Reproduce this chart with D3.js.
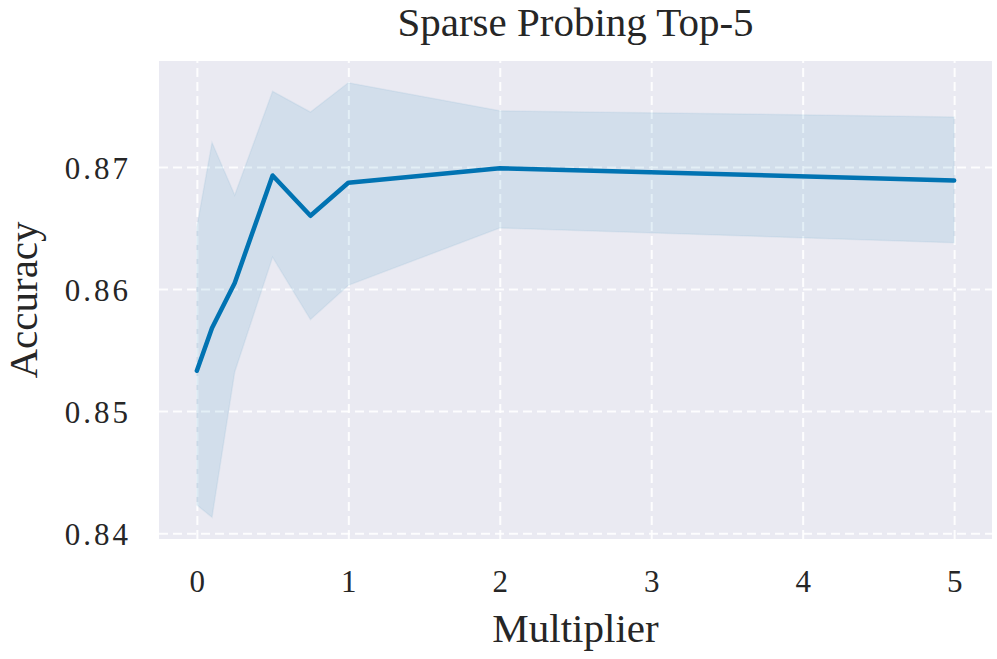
<!DOCTYPE html>
<html>
<head>
<meta charset="utf-8">
<script src="https://cdn.jsdelivr.net/npm/d3@7"></script>
<style>
  html, body { margin: 0; padding: 0; background: #ffffff; }
  svg { display: block; }
</style>
</head>
<body>
<svg id="chart" width="997" height="659"></svg>
<script>
// ---- data ----
const multipliers = [0, 0.1, 0.25, 0.5, 0.75, 1, 2, 5];
const meanAccuracy = [0.8533, 0.8568, 0.8605, 0.8693, 0.8660, 0.8687, 0.8699, 0.8689];
const upperAccuracy = [0.8651, 0.8720, 0.8677, 0.8762, 0.8745, 0.8769, 0.8746, 0.8741];
const lowerAccuracy = [0.8423, 0.8413, 0.8532, 0.8626, 0.8575, 0.8603, 0.8650, 0.8638];
const xTicks = [0, 1, 2, 3, 4, 5];
const yTicks = [0.84, 0.85, 0.86, 0.87];
const titleText = "Sparse Probing Top-5";
const xLabelText = "Multiplier";
const yLabelText = "Accuracy";

const rows = multipliers.map((m, i) => ({
  x: m, y: meanAccuracy[i], lo: lowerAccuracy[i], hi: upperAccuracy[i]
}));

// ---- layout ----
const plot = { left: 159, right: 992, top: 61, bottom: 539 };
const lineColor = "#0173B2";

const xMin = d3.min(multipliers), xMax = d3.max(multipliers);
const xPad = (xMax - xMin) * 0.05;
const yMin = d3.min(lowerAccuracy), yMax = d3.max(upperAccuracy);
const yPad = (yMax - yMin) * 0.05;

const x = d3.scaleLinear().domain([xMin - xPad, xMax + xPad]).range([plot.left, plot.right]);
const y = d3.scaleLinear().domain([yMin - yPad, yMax + yPad]).range([plot.bottom, plot.top]);

const svg = d3.select("#chart");

// background
svg.append("rect")
  .attr("x", plot.left).attr("y", plot.top)
  .attr("width", plot.right - plot.left).attr("height", plot.bottom - plot.top)
  .attr("fill", "#EAEAF2");

// grid via axes
const gx = svg.append("g")
  .attr("transform", `translate(0,${plot.bottom})`)
  .call(d3.axisBottom(x).tickValues(xTicks).tickSize(-(plot.bottom - plot.top)).tickFormat(""));
const gy = svg.append("g")
  .attr("transform", `translate(${plot.left},0)`)
  .call(d3.axisLeft(y).tickValues(yTicks).tickSize(-(plot.right - plot.left)).tickFormat(""));
[gx, gy].forEach(g => {
  g.select(".domain").remove();
  g.selectAll(".tick line")
    .attr("stroke", "#ffffff")
    .attr("stroke-width", 2)
    .attr("stroke-dasharray", "9,5")
    .attr("opacity", 0.9);
});

// band
const area = d3.area()
  .x(d => x(d.x))
  .y0(d => y(d.lo))
  .y1(d => y(d.hi));
svg.append("path")
  .datum(rows)
  .attr("d", area)
  .attr("fill", lineColor)
  .attr("fill-opacity", 0.1)
  .attr("stroke", lineColor)
  .attr("stroke-opacity", 0.06)
  .attr("stroke-width", 1.5);

// mean line
const line = d3.line().x(d => x(d.x)).y(d => y(d.y));
svg.append("path")
  .datum(rows)
  .attr("d", line)
  .attr("fill", "none")
  .attr("stroke", lineColor)
  .attr("stroke-width", 4.5)
  .attr("stroke-linejoin", "round")
  .attr("stroke-linecap", "round");

// tick labels
const tickFont = "'Liberation Serif', 'Times New Roman', serif";
const txl = svg.append("g")
  .attr("transform", `translate(0,${plot.bottom})`)
  .call(d3.axisBottom(x).tickValues(xTicks).tickSize(0).tickPadding(0).tickFormat(d3.format("d")));
txl.select(".domain").remove();
txl.selectAll(".tick text")
  .attr("y", 53).attr("dy", null)
  .attr("font-family", tickFont).attr("font-size", 31)
  .attr("fill", "#262626");

const tyl = svg.append("g")
  .attr("transform", `translate(${plot.left},0)`)
  .call(d3.axisLeft(y).tickValues(yTicks).tickSize(0).tickPadding(0).tickFormat(d3.format(".2f")));
tyl.select(".domain").remove();
tyl.selectAll(".tick text")
  .attr("x", -28).attr("dy", "0.36em")
  .attr("letter-spacing", 3)
  .attr("font-family", tickFont).attr("font-size", 31)
  .attr("fill", "#262626");

// labels
const labelFont = "'Liberation Serif', 'Times New Roman', serif";
svg.append("text")
  .attr("x", (plot.left + plot.right) / 2).attr("y", 36)
  .attr("text-anchor", "middle")
  .attr("font-family", labelFont).attr("font-size", 41)
  .attr("fill", "#262626")
  .text(titleText);

svg.append("text")
  .attr("x", (plot.left + plot.right) / 2).attr("y", 642)
  .attr("text-anchor", "middle")
  .attr("font-family", labelFont).attr("font-size", 41)
  .attr("fill", "#262626")
  .text(xLabelText);

svg.append("text")
  .attr("transform", `translate(37,${(plot.top + plot.bottom) / 2}) rotate(-90)`)
  .attr("text-anchor", "middle")
  .attr("font-family", labelFont).attr("font-size", 41)
  .attr("fill", "#262626")
  .text(yLabelText);
</script>
</body>
</html>
